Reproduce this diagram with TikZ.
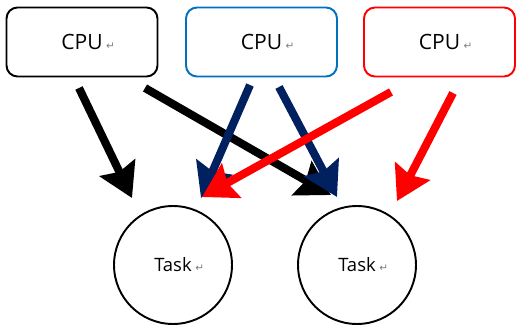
\documentclass[tikz,border=0pt]{standalone}
\usepackage{fontspec}
\setsansfont{Open Sans}
\newfontfamily\markfont{DejaVu Sans}
\usetikzlibrary{arrows.meta, positioning}
\definecolor{wordblue}{HTML}{0070C0}
\definecolor{navy}{HTML}{002060}
\newcommand{\pmark}{\rlap{\hspace{2pt}\textcolor{gray}{\markfont\fontsize{6}{7}\selectfont ↵}}}

\begin{document}
\begin{tikzpicture}[x=0.02cm, y=-0.02cm,
    cpubox/.style={draw, line width=1.1pt, rounded corners=0.22cm,
        minimum width=3.02cm, minimum height=1.38cm,
        font=\sffamily\fontsize{12}{14}\selectfont},
    tasknode/.style={draw, circle, line width=1.1pt, minimum size=2.36cm,
        inner sep=0pt, font=\sffamily\fontsize{10.5}{12}\selectfont},
    arr/.style={line width=4.6pt, -{Stealth[length=19pt, width=22pt, inset=2.5pt]}}]

    \useasboundingbox (0,0) rectangle (524,331);

    % --- CPU BOXES ---
    \node[cpubox] (cpu1) at (82,42) {CPU\pmark};
    \node[cpubox, draw=wordblue] (cpu2) at (261.5,42) {CPU\pmark};
    \node[cpubox, draw=red] (cpu3) at (439.5,42) {CPU\pmark};

    % --- TASKS ---
    \node[tasknode] (task1) at (173,265) {Task\pmark};
    \node[tasknode] (task2) at (357,265) {Task\pmark};

    % --- ARROW END POINTS ---
    \coordinate (k1a) at (79,88);   \coordinate (k1b) at (132,198);
    \coordinate (k2a) at (145,88);  \coordinate (k2b) at (331,195);
    \coordinate (b1a) at (250,85);  \coordinate (b1b) at (201,198);
    \coordinate (b2a) at (279,87);  \coordinate (b2b) at (337,197);
    \coordinate (r1a) at (391,92);  \coordinate (r1b) at (202,197);
    \coordinate (r2a) at (453,93);  \coordinate (r2b) at (397,201);

    % --- ARROWS (black, then blue, then red on top) ---
    \draw[arr] (k1a) -- (k1b);
    \draw[arr] (k2a) -- (k2b);
    \draw[arr, navy] (b1a) -- (b1b);
    \draw[arr, navy] (b2a) -- (b2b);
    \draw[arr, red] (r1a) -- (r1b);
    \draw[arr, red] (r2a) -- (r2b);

\end{tikzpicture}
\end{document}
